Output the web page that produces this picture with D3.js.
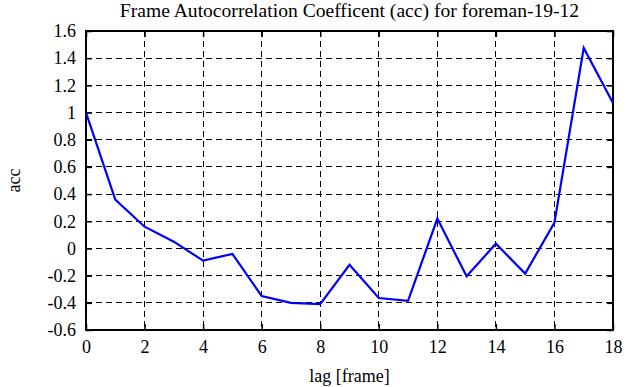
<!DOCTYPE html>
<html><head><meta charset="utf-8">
<script src="https://cdn.jsdelivr.net/npm/d3@7"></script>
<style>body{margin:0;background:#fff}svg{display:block}</style>
</head><body><svg id="c" width="641" height="387" font-family="'Liberation Serif', 'Times New Roman', serif"></svg>
<script>
const lags = [0,1,2,3,4,5,6,7,8,9,10,11,12,13,14,15,16,17,18];
const acc = [1.0,0.36,0.16,0.05,-0.09,-0.04,-0.35,-0.40,-0.41,-0.12,-0.365,-0.385,0.22,-0.205,0.035,-0.185,0.19,1.475,1.07];
const xTicks = [0,2,4,6,8,10,12,14,16,18];
const yTicks = [-0.6,-0.4,-0.2,0,0.2,0.4,0.6,0.8,1,1.2,1.4,1.6];
const title = "Frame Autocorrelation Coefficent (acc) for foreman-19-12";

const SERIF = "'Liberation Serif', 'Times New Roman', serif";
const svg = d3.select("#c");
const L=86,R=613,T=31,B=330;
const FS=18;
const x = d3.scaleLinear().domain([0,18]).range([L,R]);
const y = d3.scaleLinear().domain([-0.6,1.6]).range([B,T]);
const g = svg.append("g");
g.selectAll(".gx").data(xTicks.slice(1,-1)).join("line")
 .attr("x1",d=>x(d)).attr("x2",d=>x(d)).attr("y1",T).attr("y2",B)
 .attr("stroke","#000").attr("stroke-width",1).attr("stroke-dasharray","6,4").attr("shape-rendering","crispEdges");
g.selectAll(".gy").data(yTicks.slice(1,-1)).join("line")
 .attr("x1",L).attr("x2",R).attr("y1",d=>y(d)).attr("y2",d=>y(d))
 .attr("stroke","#000").attr("stroke-width",1).attr("stroke-dasharray","6,4").attr("shape-rendering","crispEdges");
const fmt = d=>String(+d.toFixed(1));
const ax = (a)=>a.tickSizeInner(6).tickSizeOuter(0).tickPadding(6);
const styl = sel=>{sel.attr("font-family",SERIF).attr("font-size",FS);sel.select(".domain").remove();sel.selectAll("line").attr("stroke-width",1.5);sel.selectAll("text").attr("font-family",SERIF).attr("font-size",FS).attr("fill","#000");};
svg.append("g").attr("transform",`translate(0,${B})`).call(ax(d3.axisTop(x).tickValues(xTicks).tickFormat(d=>""))).call(styl);
svg.append("g").attr("transform",`translate(0,${B})`).call(d3.axisBottom(x).tickValues(xTicks).tickSize(0).tickPadding(10)).call(styl);
svg.append("g").attr("transform",`translate(0,${T})`).call(ax(d3.axisBottom(x).tickValues(xTicks).tickFormat(d=>""))).call(styl);
svg.append("g").attr("transform",`translate(${L},0)`).call(ax(d3.axisRight(y).tickValues(yTicks).tickFormat(d=>""))).call(styl);
svg.append("g").attr("transform",`translate(${L},0)`).call(d3.axisLeft(y).tickValues(yTicks).tickSize(0).tickPadding(10).tickFormat(fmt)).call(styl);
svg.append("g").attr("transform",`translate(${R},0)`).call(ax(d3.axisLeft(y).tickValues(yTicks).tickFormat(d=>""))).call(styl);
svg.append("rect").attr("x",L).attr("y",T).attr("width",R-L).attr("height",B-T).attr("fill","none").attr("stroke","#000").attr("stroke-width",2);
svg.append("path").datum(lags.map((l,i)=>[l,acc[i]]))
 .attr("d",d3.line().x(d=>x(d[0])).y(d=>y(d[1])))
 .attr("fill","none").attr("stroke","#0000ff").attr("stroke-width",2.2);
svg.append("text").attr("x",(L+R)/2).attr("y",17).attr("text-anchor","middle").attr("font-size",19.6).text(title);
svg.append("text").attr("x",(L+R)/2).attr("y",382).attr("text-anchor","middle").attr("font-size",FS).text("lag [frame]");
svg.append("text").attr("transform",`translate(20,${(T+B)/2}) rotate(-90)`).attr("text-anchor","middle").attr("font-size",FS).text("acc");
</script></body></html>
